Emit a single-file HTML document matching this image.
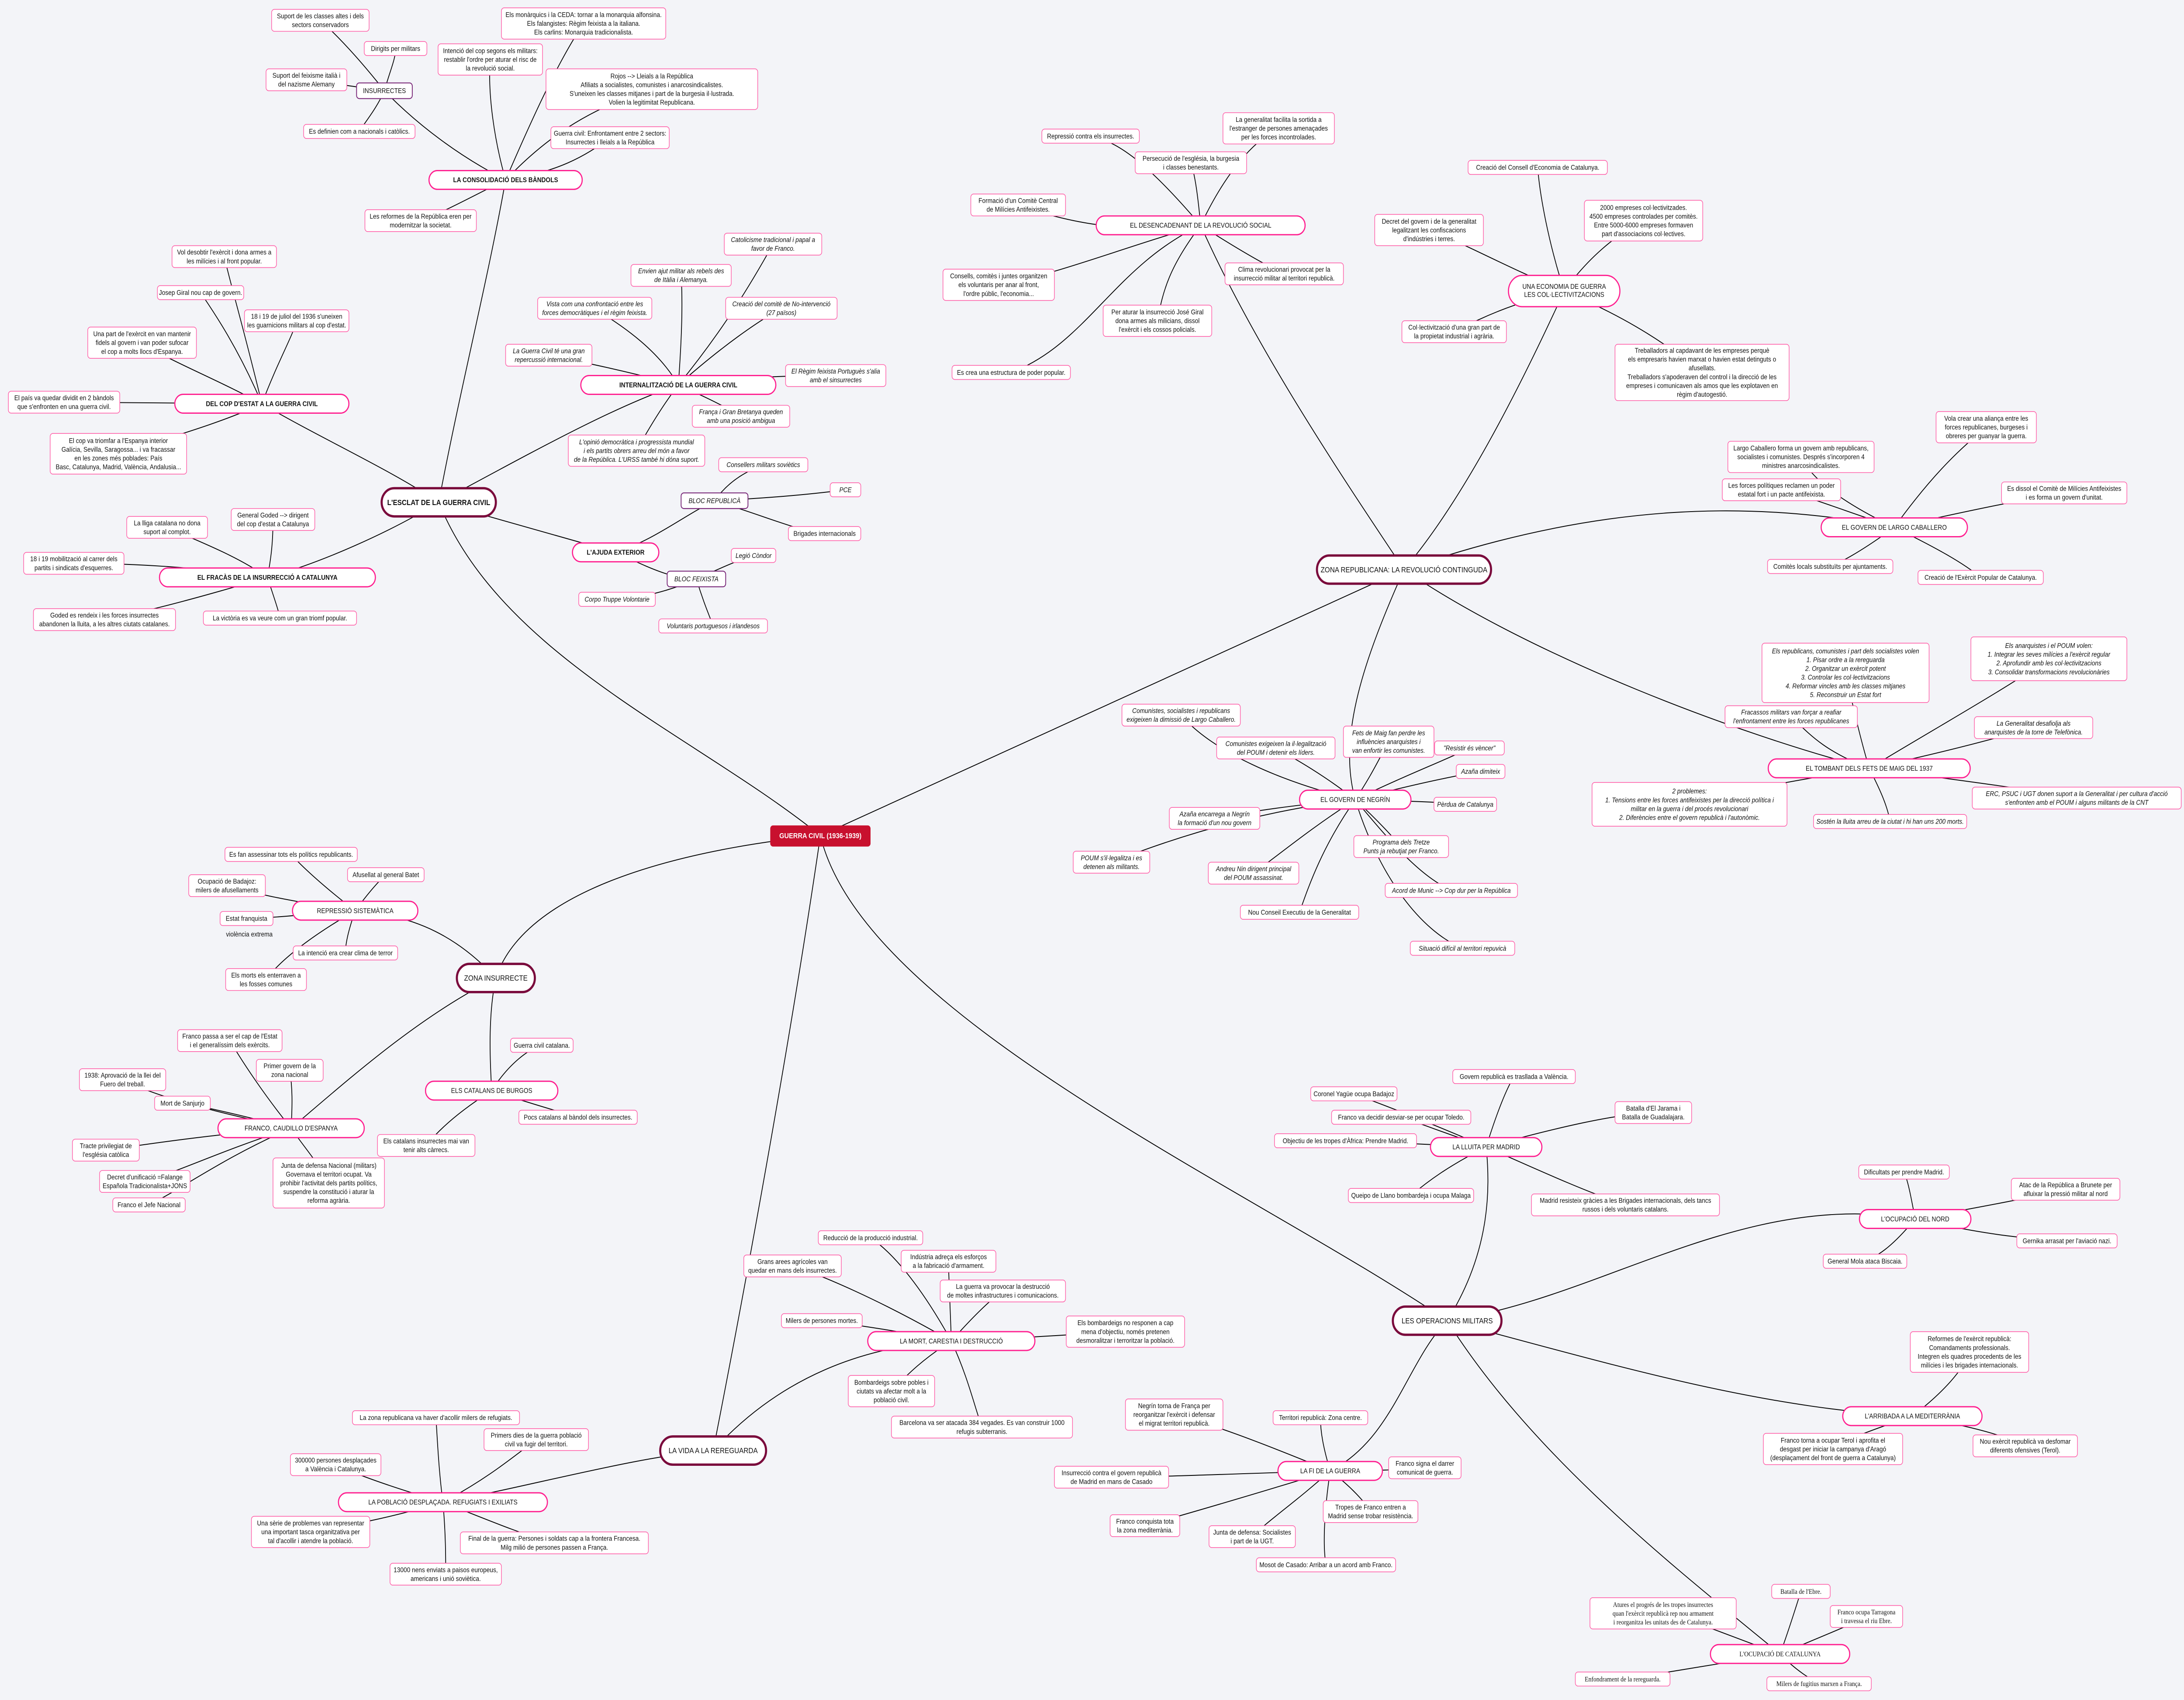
<!DOCTYPE html>
<html><head><meta charset="utf-8"><style>
html,body{margin:0;padding:0;background:#f3f4f8;width:100%;height:100%;overflow:hidden;}
svg{display:block;position:fixed;left:0;top:0;width:100vw;height:100vh;}
text{font-family:"Liberation Sans",sans-serif;font-size:4.3px;fill:#111;text-anchor:middle;}
.l rect{fill:#fff;stroke:#ff5fa8;stroke-width:0.45;}
.it text{font-style:italic;}
.p rect{fill:#fff;stroke:#7a2a7a;stroke-width:0.6;}
.c rect{fill:#fff;stroke:#ff1f8f;stroke-width:0.8;}
.m rect{fill:#fff;stroke:#7a0a3c;stroke-width:1.5;}
.m text{font-size:4.8px;}
.b text{font-weight:bold;}
.e path{fill:none;stroke:#000;stroke-width:0.55;}
.s text{font-family:"Liberation Serif",serif;}
</style></head><body>
<svg viewBox="0 0 1568 1086.4" preserveAspectRatio="none" xmlns="http://www.w3.org/2000/svg">
<g class="e">
<path d="M589 534 C500 470 360 420 315 321"/>
<path d="M589 534 L1008 364"/>
<path d="M589 534 C520 540 380 560 356 625"/>
<path d="M589 534 C570 650 540 800 512 927"/>
<path d="M589 534 C620 650 900 760 1039 844"/>
<path d="M315 321 C330 250 350 180 363 115"/>
<path d="M315 321 C280 300 230 280 188 258"/>
<path d="M315 321 C380 290 440 260 487 246"/>
<path d="M315 321 L442 353"/>
<path d="M315 321 C280 340 230 360 192 369"/>
<path d="M363 115 C330 100 300 80 276 58"/>
<path d="M363 115 C355 90 350 60 352 38"/>
<path d="M363 115 C380 80 400 40 419 15"/>
<path d="M363 115 C390 90 420 70 468 57"/>
<path d="M363 115 C400 110 420 100 438 88"/>
<path d="M363 115 C340 125 320 135 302 141"/>
<path d="M276 58 C260 40 245 25 230 13"/>
<path d="M276 58 C280 45 284 38 284 31"/>
<path d="M276 58 L220 51"/>
<path d="M276 58 C270 70 262 78 258 84"/>
<path d="M188 258 C175 210 165 180 161 164"/>
<path d="M188 258 C170 220 150 195 144 187"/>
<path d="M188 258 C200 230 210 215 213 205"/>
<path d="M188 258 C150 240 120 230 102 219"/>
<path d="M188 258 L46 257"/>
<path d="M188 258 C160 270 120 280 85 290"/>
<path d="M487 246 C520 210 540 180 555 156"/>
<path d="M487 246 C490 210 490 190 489 176"/>
<path d="M487 246 C470 220 440 205 427 197"/>
<path d="M487 246 C520 220 545 205 561 197"/>
<path d="M487 246 C440 235 410 230 394 227"/>
<path d="M487 246 C540 240 580 240 600 240"/>
<path d="M487 246 C510 255 525 262 532 266"/>
<path d="M487 246 C475 260 465 275 457 288"/>
<path d="M442 353 C470 345 490 330 513 320"/>
<path d="M442 353 C460 360 480 370 500 370"/>
<path d="M513 320 C525 305 540 300 548 297"/>
<path d="M513 320 C560 318 590 315 607 313"/>
<path d="M513 320 C550 330 575 340 592 341"/>
<path d="M500 370 C520 362 530 358 541 355"/>
<path d="M500 370 C480 378 460 382 443 383"/>
<path d="M500 370 C505 385 510 395 512 400"/>
<path d="M192 369 C170 355 140 345 120 337"/>
<path d="M192 369 C195 355 196 345 196 332"/>
<path d="M192 369 C140 362 90 360 53 360"/>
<path d="M192 369 C150 380 110 390 75 396"/>
<path d="M192 369 C196 380 200 390 201 395"/>
<path d="M1008 364 C960 300 900 220 862 144"/>
<path d="M1008 364 C1050 320 1090 250 1123 186"/>
<path d="M1008 364 C1150 320 1260 320 1360 337"/>
<path d="M1008 364 C1100 420 1250 470 1342 491"/>
<path d="M1008 364 C980 420 960 470 973 511"/>
<path d="M862 144 C820 100 800 90 783 87"/>
<path d="M862 144 C880 110 900 90 918 82"/>
<path d="M862 144 C860 125 858 112 855 104"/>
<path d="M862 144 C800 150 760 140 731 131"/>
<path d="M862 144 C800 160 760 175 717 182"/>
<path d="M862 144 C890 160 910 170 922 175"/>
<path d="M862 144 C840 170 835 185 831 205"/>
<path d="M862 144 C800 170 780 220 726 238"/>
<path d="M1123 186 C1110 150 1105 120 1104 107"/>
<path d="M1123 186 C1080 170 1050 155 1026 147"/>
<path d="M1123 186 C1140 165 1160 150 1180 141"/>
<path d="M1123 186 C1080 195 1060 205 1044 212"/>
<path d="M1123 186 C1160 200 1190 215 1222 238"/>
<path d="M1360 337 C1390 300 1410 285 1426 273"/>
<path d="M1360 337 C1320 320 1300 305 1293 292"/>
<path d="M1360 337 C1320 325 1300 318 1279 313"/>
<path d="M1360 337 C1420 325 1460 318 1482 315"/>
<path d="M1360 337 C1340 350 1325 358 1314 362"/>
<path d="M1360 337 C1390 350 1410 360 1422 369"/>
<path d="M1342 491 C1335 470 1330 450 1325 430"/>
<path d="M1342 491 C1400 460 1440 440 1471 421"/>
<path d="M1342 491 C1310 480 1300 470 1286 458"/>
<path d="M1342 491 C1400 480 1440 470 1460 465"/>
<path d="M1342 491 C1280 500 1250 505 1213 514"/>
<path d="M1342 491 C1420 500 1460 505 1491 510"/>
<path d="M1342 491 C1350 505 1355 515 1357 525"/>
<path d="M973 511 C920 500 870 480 848 457"/>
<path d="M973 511 C985 495 990 485 997 474"/>
<path d="M973 511 C950 495 930 485 916 478"/>
<path d="M973 511 C1010 495 1040 485 1055 478"/>
<path d="M973 511 C1020 500 1050 495 1063 493"/>
<path d="M973 511 C920 515 890 520 872 523"/>
<path d="M973 511 C1020 512 1040 513 1052 514"/>
<path d="M973 511 C990 525 1000 535 1006 541"/>
<path d="M973 511 C890 520 830 540 798 551"/>
<path d="M973 511 C940 530 920 545 900 558"/>
<path d="M973 511 C1000 540 1020 560 1042 569"/>
<path d="M973 511 C950 540 940 565 933 583"/>
<path d="M973 511 C990 560 1020 595 1050 606"/>
<path d="M356 625 C330 600 300 585 255 582"/>
<path d="M356 625 C350 650 352 680 353 697"/>
<path d="M356 625 C300 650 250 690 209 721"/>
<path d="M255 582 C230 565 215 552 209 546"/>
<path d="M255 582 C265 570 272 563 277 559"/>
<path d="M255 582 C200 575 180 570 163 566"/>
<path d="M255 582 C210 585 190 587 177 587"/>
<path d="M255 582 C250 595 248 603 248 609"/>
<path d="M255 582 C220 600 200 615 191 626"/>
<path d="M353 697 C365 680 380 670 389 668"/>
<path d="M353 697 C380 705 400 710 415 714"/>
<path d="M353 697 C330 710 315 722 306 732"/>
<path d="M209 721 C190 700 175 680 165 665"/>
<path d="M209 721 C210 705 210 695 208 684"/>
<path d="M209 721 C150 710 110 700 88 690"/>
<path d="M209 721 C170 712 145 707 131 705"/>
<path d="M209 721 C150 725 100 732 76 735"/>
<path d="M209 721 C220 735 230 745 236 756"/>
<path d="M209 721 C160 735 130 748 104 755"/>
<path d="M209 721 C160 740 130 760 107 770"/>
<path d="M512 927 C560 880 620 860 683 857"/>
<path d="M512 927 C460 930 380 950 318 960"/>
<path d="M683 857 C660 820 640 800 625 791"/>
<path d="M683 857 C682 830 681 815 681 806"/>
<path d="M683 857 C630 830 590 815 569 809"/>
<path d="M683 857 C700 840 712 830 720 825"/>
<path d="M683 857 C640 850 610 846 590 844"/>
<path d="M683 857 C740 855 780 852 808 851"/>
<path d="M683 857 C660 870 650 880 640 889"/>
<path d="M683 857 C695 880 700 900 705 912"/>
<path d="M318 960 C315 940 314 920 313 906"/>
<path d="M318 960 C350 945 370 930 385 920"/>
<path d="M318 960 C280 950 255 942 241 936"/>
<path d="M318 960 C280 970 250 975 223 979"/>
<path d="M318 960 C360 975 380 982 398 986"/>
<path d="M318 960 C320 980 320 995 320 1006"/>
<path d="M1039 844 C1070 800 1070 760 1067 733"/>
<path d="M1039 844 C1150 830 1250 760 1375 779"/>
<path d="M1039 844 C1150 870 1260 900 1373 905"/>
<path d="M1039 844 C1010 870 1000 920 955 940"/>
<path d="M1039 844 C1100 930 1200 1000 1278 1057"/>
<path d="M1067 733 C1075 710 1082 695 1087 688"/>
<path d="M1067 733 C1020 715 990 705 972 699"/>
<path d="M1067 733 C1120 720 1160 712 1187 711"/>
<path d="M1067 733 C1040 725 1020 718 1006 714"/>
<path d="M1067 733 L966 729"/>
<path d="M1067 733 C1040 745 1025 755 1013 764"/>
<path d="M1067 733 C1110 750 1140 762 1167 770"/>
<path d="M1375 779 C1372 765 1370 755 1367 749"/>
<path d="M1375 779 C1430 770 1460 765 1483 760"/>
<path d="M1375 779 C1430 790 1460 792 1484 793"/>
<path d="M1375 779 C1360 795 1350 802 1339 806"/>
<path d="M1373 905 C1395 890 1410 875 1414 864"/>
<path d="M1373 905 C1340 915 1325 920 1316 926"/>
<path d="M1373 905 C1420 912 1440 918 1454 924"/>
<path d="M955 940 C900 920 870 910 843 904"/>
<path d="M955 940 C950 925 948 915 948 906"/>
<path d="M955 940 C990 940 1010 939 1023 938"/>
<path d="M955 940 C880 942 830 944 798 944"/>
<path d="M955 940 C970 950 980 960 984 966"/>
<path d="M955 940 C900 955 850 968 822 975"/>
<path d="M955 940 C930 960 910 972 899 982"/>
<path d="M955 940 C950 970 950 990 952 1000"/>
<path d="M1278 1057 C1285 1040 1290 1025 1293 1017"/>
<path d="M1278 1057 C1310 1045 1330 1038 1340 1033"/>
<path d="M1278 1057 C1240 1045 1215 1035 1194 1031"/>
<path d="M1278 1057 C1220 1065 1190 1070 1165 1073"/>
<path d="M1278 1057 C1290 1068 1300 1073 1306 1076"/>
</g>

<g class="m">
<rect x="274" y="312" width="82" height="18" rx="9"/><text x="315" y="322.7" font-weight="bold">L'ESCLAT DE LA GUERRA CIVIL</text>
<rect x="945.5" y="355" width="125" height="18" rx="9"/><text x="1008" y="365.7">ZONA REPUBLICANA: LA REVOLUCIÓ CONTINGUDA</text>
<rect x="328" y="616" width="56" height="18" rx="9"/><text x="356" y="626.7">ZONA INSURRECTE</text>
<rect x="474" y="918" width="76" height="18" rx="9"/><text x="512" y="928.7">LA VIDA A LA REREGUARDA</text>
<rect x="1000" y="835" width="78" height="18" rx="9"/><text x="1039" y="845.7">LES OPERACIONS MILITARS</text>
</g>
<rect x="553" y="527.5" width="72" height="13.5" rx="2" fill="#c8102e"/>
<text x="589" y="535.7" style="fill:#fff;font-weight:bold;font-size:4.6px">GUERRA CIVIL (1936-1939)</text>

<g class="c">
<g class="b"><rect x="308" y="109" width="110" height="12" rx="6"/><text x="363" y="116.5">LA CONSOLIDACIÓ DELS BÀNDOLS</text></g>
<g class="b"><rect x="125.5" y="252" width="125" height="12" rx="6"/><text x="188" y="259.5">DEL COP D'ESTAT A LA GUERRA CIVIL</text></g>
<g class="b"><rect x="417" y="240" width="140" height="12" rx="6"/><text x="487" y="247.5">INTERNALITZACIÓ DE LA GUERRA CIVIL</text></g>
<g class="b"><rect x="411" y="347" width="62" height="12" rx="6"/><text x="442" y="354.5">L'AJUDA EXTERIOR</text></g>
<g class="b"><rect x="114.5" y="363" width="155" height="12" rx="6"/><text x="192" y="370.5">EL FRACÀS DE LA INSURRECCIÓ A CATALUNYA</text></g>
<rect x="787" y="138" width="150" height="12" rx="6"/><text x="862" y="145.5">EL DESENCADENANT DE LA REVOLUCIÓ SOCIAL</text>
<rect x="1083" y="176" width="80" height="20" rx="10"/><text x="1123" y="184.5">UNA ECONOMIA DE GUERRA<tspan x="1123" dy="5.2">LES COL·LECTIVITZACIONS</tspan></text>
<rect x="1307.5" y="331" width="105" height="12" rx="6"/><text x="1360" y="338.5">EL GOVERN DE LARGO CABALLERO</text>
<rect x="1269.5" y="485" width="145" height="12" rx="6"/><text x="1342" y="492.5">EL TOMBANT DELS FETS DE MAIG DEL 1937</text>
<rect x="933" y="505" width="80" height="12" rx="6"/><text x="973" y="512.5">EL GOVERN DE NEGRÍN</text>
<rect x="210" y="576" width="90" height="12" rx="6"/><text x="255" y="583.5">REPRESSIÓ SISTEMÀTICA</text>
<rect x="305.5" y="691" width="95" height="12" rx="6"/><text x="353" y="698.5">ELS CATALANS DE BURGOS</text>
<rect x="156.5" y="715" width="105" height="12" rx="6"/><text x="209" y="722.5">FRANCO, CAUDILLO D'ESPANYA</text>
<rect x="623" y="851" width="120" height="12" rx="6"/><text x="683" y="858.5">LA MORT, CARESTIA I DESTRUCCIÓ</text>
<rect x="243" y="954" width="150" height="12" rx="6"/><text x="318" y="961.5">LA POBLACIÓ DESPLAÇADA. REFUGIATS I EXILIATS</text>
<rect x="1027" y="727" width="80" height="12" rx="6"/><text x="1067" y="734.5">LA LLUITA PER MADRID</text>
<rect x="1335" y="773" width="80" height="12" rx="6"/><text x="1375" y="780.5">L'OCUPACIÓ DEL NORD</text>
<rect x="1323" y="899" width="100" height="12" rx="6"/><text x="1373" y="906.5">L'ARRIBADA A LA MEDITERRÀNIA</text>
<rect x="917.5" y="934" width="75" height="12" rx="6"/><text x="955" y="941.5">LA FI DE LA GUERRA</text>
<g class="s"><rect x="1228" y="1051" width="100" height="12" rx="6"/><text x="1278" y="1058.5">L'OCUPACIÓ DE CATALUNYA</text></g>
</g>

<g class="p">
<rect x="256" y="53" width="40" height="10" rx="2"/><text x="276" y="59.5">INSURRECTES</text>
<g class="it"><rect x="489" y="315" width="48" height="10" rx="2"/><text x="513" y="321.5">BLOC REPUBLICÀ</text>
<rect x="479" y="365" width="42" height="10" rx="2"/><text x="500" y="371.5">BLOC FEIXISTA</text></g>
</g>

<g class="l">
<rect x="195" y="6" width="70" height="14" rx="2"/><text x="230" y="11.7">Suport de les classes altes i dels<tspan x="230" dy="5.6">sectors conservadors</tspan></text>
<rect x="261.5" y="26.5" width="45" height="9" rx="2"/><text x="284" y="32.5">Dirigits per militars</text>
<rect x="191" y="44" width="58" height="14" rx="2"/><text x="220" y="49.7">Suport del feixisme italià i<tspan x="220" dy="5.6">del nazisme Alemany</tspan></text>
<rect x="218" y="79.5" width="80" height="9" rx="2"/><text x="258" y="85.5">Es definien com a nacionals i catòlics.</text>
<rect x="314.5" y="28" width="75" height="20" rx="2"/><text x="352" y="33.9">Intenció del cop segons els militars:<tspan x="352" dy="5.6">restablir l'ordre per aturar el risc de</tspan><tspan x="352" dy="5.6">la revolució social.</tspan></text>
<rect x="360" y="5" width="118" height="20" rx="2"/><text x="419" y="10.9">Els monàrquics i la CEDA: tornar a la monarquia alfonsina.<tspan x="419" dy="5.6">Els falangistes: Règim feixista a la italiana.</tspan><tspan x="419" dy="5.6">Els carlins: Monarquia tradicionalista.</tspan></text>
<rect x="392" y="44" width="152" height="26" rx="2"/><text x="468" y="50.1">Rojos --&gt; Lleials a la República<tspan x="468" dy="5.6">Afiliats a socialistes, comunistes i anarcosindicalistes.</tspan><tspan x="468" dy="5.6">S'uneixen les classes mitjanes i part de la burgesia il·lustrada.</tspan><tspan x="468" dy="5.6">Volien la legitimitat Republicana.</tspan></text>
<rect x="395.5" y="81" width="85" height="14" rx="2"/><text x="438" y="86.7">Guerra civil: Enfrontament entre 2 sectors:<tspan x="438" dy="5.6">Insurrectes i lleials a la República</tspan></text>
<rect x="262" y="134" width="80" height="14" rx="2"/><text x="302" y="139.7">Les reformes de la República eren per<tspan x="302" dy="5.6">modernitzar la societat.</tspan></text>
<rect x="123.5" y="157" width="75" height="14" rx="2"/><text x="161" y="162.7">Vol desobtir l'exèrcit i dona armes a<tspan x="161" dy="5.6">les milícies i al front popular.</tspan></text>
<rect x="113" y="182.5" width="62" height="9" rx="2"/><text x="144" y="188.5">Josep Giral nou cap de govern.</text>
<rect x="175.5" y="198" width="75" height="14" rx="2"/><text x="213" y="203.7">18 i 19 de juliol del 1936 s'uneixen<tspan x="213" dy="5.6">les guarnicions militars al cop d'estat.</tspan></text>
<rect x="63" y="209" width="78" height="20" rx="2"/><text x="102" y="214.9">Una part de l'exèrcit en van mantenir<tspan x="102" dy="5.6">fidels al govern i van poder sufocar</tspan><tspan x="102" dy="5.6">el cop a molts llocs d'Espanya.</tspan></text>
<rect x="6" y="250" width="80" height="14" rx="2"/><text x="46" y="255.7">El país va quedar dividit en 2 bàndols<tspan x="46" dy="5.6">que s'enfronten en una guerra civil.</tspan></text>
<rect x="36" y="277" width="98" height="26" rx="2"/><text x="85" y="283.1">El cop va triomfar a l'Espanya interior<tspan x="85" dy="5.6">Galícia, Sevilla, Saragossa... i va fracassar</tspan><tspan x="85" dy="5.6">en les zones més poblades: País</tspan><tspan x="85" dy="5.6">Basc, Catalunya, Madrid, València, Andalusia...</tspan></text>
<g class="it">
<rect x="520" y="149" width="70" height="14" rx="2"/><text x="555" y="154.7">Catolicisme tradicional i papal a<tspan x="555" dy="5.6">favor de Franco.</tspan></text>
<rect x="453" y="169" width="72" height="14" rx="2"/><text x="489" y="174.7">Envien ajut militar als rebels des<tspan x="489" dy="5.6">de Itàlia i Alemanya.</tspan></text>
<rect x="386" y="190" width="82" height="14" rx="2"/><text x="427" y="195.7">Vista com una confrontació entre les<tspan x="427" dy="5.6">forces democràtiques i el règim feixista.</tspan></text>
<rect x="521" y="190" width="80" height="14" rx="2"/><text x="561" y="195.7">Creació del comitè de No-intervenció<tspan x="561" dy="5.6">(27 països)</tspan></text>
<rect x="363" y="220" width="62" height="14" rx="2"/><text x="394" y="225.7">La Guerra Civil té una gran<tspan x="394" dy="5.6">repercussió internacional.</tspan></text>
<rect x="564" y="233" width="72" height="14" rx="2"/><text x="600" y="238.7">El Règim feixista Portuguès s'alia<tspan x="600" dy="5.6">amb el sinsurrectes</tspan></text>
<rect x="497" y="259" width="70" height="14" rx="2"/><text x="532" y="264.7">França i Gran Bretanya queden<tspan x="532" dy="5.6">amb una posició ambigua</tspan></text>
<rect x="408" y="278" width="98" height="20" rx="2"/><text x="457" y="283.9">L'opinió democràtica i progressista mundial<tspan x="457" dy="5.6">i els partits obrers arreu del món a favor</tspan><tspan x="457" dy="5.6">de la República. L'URSS també hi dóna suport.</tspan></text>
<rect x="516" y="292.5" width="64" height="9" rx="2"/><text x="548" y="298.5">Consellers militars soviètics</text>
<rect x="596" y="308.5" width="22" height="9" rx="2"/><text x="607" y="314.5">PCE</text>
<rect x="525" y="350.5" width="32" height="9" rx="2"/><text x="541" y="356.5">Legió Còndor</text>
<rect x="415.5" y="378.5" width="55" height="9" rx="2"/><text x="443" y="384.5">Corpo Truppe Volontarie</text>
<rect x="473" y="395.5" width="78" height="9" rx="2"/><text x="512" y="401.5">Voluntaris portuguesos i irlandesos</text>
</g>
<rect x="566" y="336.5" width="52" height="9" rx="2"/><text x="592" y="342.5">Brigades internacionals</text>
<rect x="91" y="330" width="58" height="14" rx="2"/><text x="120" y="335.7">La lliga catalana no dona<tspan x="120" dy="5.6">suport al complot.</tspan></text>
<rect x="166" y="325" width="60" height="14" rx="2"/><text x="196" y="330.7">General Goded --&gt; dirigent<tspan x="196" dy="5.6">del cop d'estat a Catalunya</tspan></text>
<rect x="17" y="353" width="72" height="14" rx="2"/><text x="53" y="358.7">18 i 19 mobilització al carrer dels<tspan x="53" dy="5.6">partits i sindicats d'esquerres.</tspan></text>
<rect x="24" y="389" width="102" height="14" rx="2"/><text x="75" y="394.7">Goded es rendeix i les forces insurrectes<tspan x="75" dy="5.6">abandonen la lluita, a les altres ciutats catalanes.</tspan></text>
<rect x="146" y="390.5" width="110" height="9" rx="2"/><text x="201" y="396.5">La victòria es va veure com un gran triomf popular.</text>

<rect x="748" y="82.5" width="70" height="9" rx="2"/><text x="783" y="88.5">Repressió contra els insurrectes.</text>
<rect x="878" y="72" width="80" height="20" rx="2"/><text x="918" y="77.9">La generalitat facilita la sortida a<tspan x="918" dy="5.6">l'estranger de persones amenaçades</tspan><tspan x="918" dy="5.6">per les forces incontrolades.</tspan></text>
<rect x="815" y="97" width="80" height="14" rx="2"/><text x="855" y="102.7">Persecució de l'església, la burgesia<tspan x="855" dy="5.6">i classes benestants.</tspan></text>
<rect x="697" y="124" width="68" height="14" rx="2"/><text x="731" y="129.7">Formació d'un Comitè Central<tspan x="731" dy="5.6">de Milícies Antifeixistes.</tspan></text>
<rect x="677" y="172" width="80" height="20" rx="2"/><text x="717" y="177.9">Consells, comitès i juntes organitzen<tspan x="717" dy="5.6">els voluntaris per anar al front,</tspan><tspan x="717" dy="5.6">l'ordre públic, l'economia...</tspan></text>
<rect x="879.5" y="168" width="85" height="14" rx="2"/><text x="922" y="173.7">Clima revolucionari provocat per la<tspan x="922" dy="5.6">insurrecció militar al territori republicà.</tspan></text>
<rect x="792" y="195" width="78" height="20" rx="2"/><text x="831" y="200.9">Per aturar la insurrecció José Giral<tspan x="831" dy="5.6">dona armes als milicians, dissol</tspan><tspan x="831" dy="5.6">l'exèrcit i els cossos policials.</tspan></text>
<rect x="683.5" y="233.5" width="85" height="9" rx="2"/><text x="726" y="239.5">Es crea una estructura de poder popular.</text>

<rect x="1054" y="102.5" width="100" height="9" rx="2"/><text x="1104" y="108.5">Creació del Consell d'Economia de Catalunya.</text>
<rect x="987" y="137" width="78" height="20" rx="2"/><text x="1026" y="142.9">Decret del govern i de la generalitat<tspan x="1026" dy="5.6">legalitzant les confiscacions</tspan><tspan x="1026" dy="5.6">d'indústries i terres.</tspan></text>
<rect x="1137.5" y="128" width="85" height="26" rx="2"/><text x="1180" y="134.1">2000 empreses col·lectivitzades.<tspan x="1180" dy="5.6">4500 empreses controlades per comitès.</tspan><tspan x="1180" dy="5.6">Entre 5000-6000 empreses formaven</tspan><tspan x="1180" dy="5.6">part d'associacions col·lectives.</tspan></text>
<rect x="1006.5" y="205" width="75" height="14" rx="2"/><text x="1044" y="210.7">Col·lectivització d'una gran part de<tspan x="1044" dy="5.6">la propietat industrial i agrària.</tspan></text>
<rect x="1159.5" y="220" width="125" height="36" rx="2"/><text x="1222" y="225.5">Treballadors al capdavant de les empreses perquè<tspan x="1222" dy="5.6">els empresaris havien marxat o havien estat detinguts o</tspan><tspan x="1222" dy="5.6">afusellats.</tspan><tspan x="1222" dy="5.6">Treballadors s'apoderaven del control i la direcció de les</tspan><tspan x="1222" dy="5.6">empreses i comunicaven als amos que les explotaven en</tspan><tspan x="1222" dy="5.6">règim d'autogestió.</tspan></text>

<rect x="1390" y="263" width="72" height="20" rx="2"/><text x="1426" y="268.9">Vola crear una aliança entre les<tspan x="1426" dy="5.6">forces republicanes, burgeses i</tspan><tspan x="1426" dy="5.6">obreres per guanyar la guerra.</tspan></text>
<rect x="1240.5" y="282" width="105" height="20" rx="2"/><text x="1293" y="287.9">Largo Caballero forma un govern amb republicans,<tspan x="1293" dy="5.6">socialistes i comunistes. Després s'incorporen 4</tspan><tspan x="1293" dy="5.6">ministres anarcosindicalistes.</tspan></text>
<rect x="1236.5" y="306" width="85" height="14" rx="2"/><text x="1279" y="311.7">Les forces polítiques reclamen un poder<tspan x="1279" dy="5.6">estatal fort i un pacte antifeixista.</tspan></text>
<rect x="1437" y="308" width="90" height="14" rx="2"/><text x="1482" y="313.7">Es dissol el Comitè de Milícies Antifeixistes<tspan x="1482" dy="5.6">i es forma un govern d'unitat.</tspan></text>
<rect x="1269" y="357.5" width="90" height="9" rx="2"/><text x="1314" y="363.5">Comitès locals substituïts per ajuntaments.</text>
<rect x="1377" y="364.5" width="90" height="9" rx="2"/><text x="1422" y="370.5">Creació de l'Exèrcit Popular de Catalunya.</text>

<g class="it">
<rect x="1265" y="411" width="120" height="38" rx="2"/><text x="1325" y="417.5">Els republicans, comunistes i part dels socialistes volen<tspan x="1325" dy="5.6">1. Pisar ordre a la rereguarda</tspan><tspan x="1325" dy="5.6">2. Organitzar un exèrcit potent</tspan><tspan x="1325" dy="5.6">3. Controlar les col·lectivitzacions</tspan><tspan x="1325" dy="5.6">4. Reformar vincles amb les classes mitjanes</tspan><tspan x="1325" dy="5.6">5. Reconstruir un Estat fort</tspan></text>
<rect x="1415" y="407" width="112" height="28" rx="2"/><text x="1471" y="414.1">Els anarquistes i el POUM volen:<tspan x="1471" dy="5.6">1. Integrar les seves milícies a l'exèrcit regular</tspan><tspan x="1471" dy="5.6">2. Aprofundir amb les col·lectivitzacions</tspan><tspan x="1471" dy="5.6">3. Consolidar transformacions revolucionàries</tspan></text>
<rect x="1238.5" y="451" width="95" height="14" rx="2"/><text x="1286" y="456.7">Fracassos militars van forçar a reafiar<tspan x="1286" dy="5.6">l'enfrontament entre les forces republicanes</tspan></text>
<rect x="1417.5" y="458" width="85" height="14" rx="2"/><text x="1460" y="463.7">La Generalitat desafiolja als<tspan x="1460" dy="5.6">anarquistes de la torre de Telefònica.</tspan></text>
<rect x="1143" y="500" width="140" height="28" rx="2"/><text x="1213" y="507.1">2 problemes:<tspan x="1213" dy="5.6">1. Tensions entre les forces antifeixistes per la direcció política i</tspan><tspan x="1213" dy="5.6">militar en la guerra i del procés revolucionari</tspan><tspan x="1213" dy="5.6">2. Diferències entre el govern republicà i l'autonòmic.</tspan></text>
<rect x="1416" y="503" width="150" height="14" rx="2"/><text x="1491" y="508.7">ERC, PSUC i UGT donen suport a la Generalitat i per cultura d'acció<tspan x="1491" dy="5.6">s'enfronten amb el POUM i alguns militants de la CNT</tspan></text>
<rect x="1302" y="520.5" width="110" height="9" rx="2"/><text x="1357" y="526.5">Sostén la lluita arreu de la ciutat i hi han uns 200 morts.</text>

<rect x="805.5" y="450" width="85" height="14" rx="2"/><text x="848" y="455.7">Comunistes, socialistes i republicans<tspan x="848" dy="5.6">exigeixen la dimissió de Largo Caballero.</tspan></text>
<rect x="964.5" y="464" width="65" height="20" rx="2"/><text x="997" y="469.9">Fets de Maig fan perdre les<tspan x="997" dy="5.6">influències anarquistes i</tspan><tspan x="997" dy="5.6">van enfortir les comunistes.</tspan></text>
<rect x="873.5" y="471" width="85" height="14" rx="2"/><text x="916" y="476.7">Comunistes exigeixen la il·legalització<tspan x="916" dy="5.6">del POUM i detenir els líders.</tspan></text>
<rect x="1030" y="473.5" width="50" height="9" rx="2"/><text x="1055" y="479.5">"Resistir és vèncer"</text>
<rect x="1045.5" y="488.5" width="35" height="9" rx="2"/><text x="1063" y="494.5">Azaña dimiteix</text>
<rect x="839.5" y="516" width="65" height="14" rx="2"/><text x="872" y="521.7">Azaña encarrega a Negrín<tspan x="872" dy="5.6">la formació d'un nou govern</tspan></text>
<rect x="1029.5" y="509.5" width="45" height="9" rx="2"/><text x="1052" y="515.5">Pèrdua de Catalunya</text>
<rect x="972" y="534" width="68" height="14" rx="2"/><text x="1006" y="539.7">Programa dels Tretze<tspan x="1006" dy="5.6">Punts ja rebutjat per Franco.</tspan></text>
<rect x="770.5" y="544" width="55" height="14" rx="2"/><text x="798" y="549.7">POUM s'il·legalitza i es<tspan x="798" dy="5.6">detenen als militants.</tspan></text>
<rect x="867.5" y="551" width="65" height="14" rx="2"/><text x="900" y="556.7">Andreu Nin dirigent principal<tspan x="900" dy="5.6">del POUM assassinat.</tspan></text>
<rect x="994.5" y="564.5" width="95" height="9" rx="2"/><text x="1042" y="570.5">Acord de Munic --&gt; Cop dur per la República</text>
<rect x="1012.5" y="601.5" width="75" height="9" rx="2"/><text x="1050" y="607.5">Situació difícil al territori repuvicà</text>
</g>
<rect x="890.5" y="578.5" width="85" height="9" rx="2"/><text x="933" y="584.5">Nou Conseil Executiu de la Generalitat</text>

<rect x="161.5" y="541.5" width="95" height="9" rx="2"/><text x="209" y="547.5">Es fan assessinar tots els polítics republicants.</text>
<rect x="249.5" y="554.5" width="55" height="9" rx="2"/><text x="277" y="560.5">Afusellat al general Batet</text>
<rect x="135.5" y="559" width="55" height="14" rx="2"/><text x="163" y="564.7">Ocupació de Badajoz:<tspan x="163" dy="5.6">milers de afusellaments</tspan></text>
<rect x="158" y="582.5" width="38" height="9" rx="2"/><text x="177" y="588.5">Estat franquista</text>
<text x="179" y="598.5">violència extrema</text>
<rect x="210.5" y="604.5" width="75" height="9" rx="2"/><text x="248" y="610.5">La intenció era crear clima de terror</text>
<rect x="162" y="619" width="58" height="14" rx="2"/><text x="191" y="624.7">Els morts els enterraven a<tspan x="191" dy="5.6">les fosses comunes</tspan></text>
<rect x="366.5" y="663.5" width="45" height="9" rx="2"/><text x="389" y="669.5">Guerra civil catalana.</text>
<rect x="372.5" y="709.5" width="85" height="9" rx="2"/><text x="415" y="715.5">Pocs catalans al bàndol dels insurrectes.</text>
<rect x="271" y="725" width="70" height="14" rx="2"/><text x="306" y="730.7">Els catalans insurrectes mai van<tspan x="306" dy="5.6">tenir alts càrrecs.</tspan></text>
<rect x="127.5" y="658" width="75" height="14" rx="2"/><text x="165" y="663.7">Franco passa a ser el cap de l'Estat<tspan x="165" dy="5.6">i el generalíssim dels exèrcits.</tspan></text>
<rect x="184" y="677" width="48" height="14" rx="2"/><text x="208" y="682.7">Primer govern de la<tspan x="208" dy="5.6">zona nacional</tspan></text>
<rect x="57" y="683" width="62" height="14" rx="2"/><text x="88" y="688.7">1938: Aprovació de la llei del<tspan x="88" dy="5.6">Fuero del treball.</tspan></text>
<rect x="111" y="700.5" width="40" height="9" rx="2"/><text x="131" y="706.5">Mort de Sanjurjo</text>
<rect x="52" y="728" width="48" height="14" rx="2"/><text x="76" y="733.7">Tracte privilegiat de<tspan x="76" dy="5.6">l'església catòlica</tspan></text>
<rect x="196" y="740" width="80" height="32" rx="2"/><text x="236" y="746.3">Junta de defensa Nacional (militars)<tspan x="236" dy="5.6">Governava el territori ocupat. Va</tspan><tspan x="236" dy="5.6">prohibir l'activitat dels partits polítics,</tspan><tspan x="236" dy="5.6">suspendre la constitució i aturar la</tspan><tspan x="236" dy="5.6">reforma agrària.</tspan></text>
<rect x="71.5" y="748" width="65" height="14" rx="2"/><text x="104" y="753.7">Decret d'unificació =Falange<tspan x="104" dy="5.6">Española Tradicionalista+JONS</tspan></text>
<rect x="81" y="765.5" width="52" height="9" rx="2"/><text x="107" y="771.5">Franco el Jefe Nacional</text>

<rect x="587.5" y="786.5" width="75" height="9" rx="2"/><text x="625" y="792.5">Reducció de la producció industrial.</text>
<rect x="647" y="799" width="68" height="14" rx="2"/><text x="681" y="804.7">Indústria adreça els esforços<tspan x="681" dy="5.6">a la fabricació d'armament.</tspan></text>
<rect x="534" y="802" width="70" height="14" rx="2"/><text x="569" y="807.7">Grans arees agrícoles van<tspan x="569" dy="5.6">quedar en mans dels insurrectes.</tspan></text>
<rect x="675" y="818" width="90" height="14" rx="2"/><text x="720" y="823.7">La guerra va provocar la destrucció<tspan x="720" dy="5.6">de moltes infrastructures i comunicacions.</tspan></text>
<rect x="561" y="839.5" width="58" height="9" rx="2"/><text x="590" y="845.5">Milers de persones mortes.</text>
<rect x="765.5" y="841" width="85" height="20" rx="2"/><text x="808" y="846.9">Els bombardeigs no responen a cap<tspan x="808" dy="5.6">mena d'objectiu, només pretenen</tspan><tspan x="808" dy="5.6">desmoralitzar i terroritzar la població.</tspan></text>
<rect x="609" y="879" width="62" height="20" rx="2"/><text x="640" y="884.9">Bombardeigs sobre pobles i<tspan x="640" dy="5.6">ciutats va afectar molt a la</tspan><tspan x="640" dy="5.6">població civil.</tspan></text>
<rect x="640" y="905" width="130" height="14" rx="2"/><text x="705" y="910.7">Barcelona va ser atacada 384 vegades. Es van construir 1000<tspan x="705" dy="5.6">refugis subterranis.</tspan></text>
<rect x="253" y="901.5" width="120" height="9" rx="2"/><text x="313" y="907.5">La zona republicana va haver d'acollir milers de refugiats.</text>
<rect x="347.5" y="913" width="75" height="14" rx="2"/><text x="385" y="918.7">Primers dies de la guerra població<tspan x="385" dy="5.6">civil va fugir del territori.</tspan></text>
<rect x="208.5" y="929" width="65" height="14" rx="2"/><text x="241" y="934.7">300000 persones desplaçades<tspan x="241" dy="5.6">a València i Catalunya.</tspan></text>
<rect x="180.5" y="969" width="85" height="20" rx="2"/><text x="223" y="974.9">Una sèrie de problemes van representar<tspan x="223" dy="5.6">una important tasca organitzativa per</tspan><tspan x="223" dy="5.6">tal d'acollir i atendre la població.</tspan></text>
<rect x="330.5" y="979" width="135" height="14" rx="2"/><text x="398" y="984.7">Final de la guerra: Persones i soldats cap a la frontera Francesa.<tspan x="398" dy="5.6">Milg milió de persones passen a França.</tspan></text>
<rect x="280" y="999" width="80" height="14" rx="2"/><text x="320" y="1004.7">13000 nens enviats a paisos europeus,<tspan x="320" dy="5.6">americans i unió soviètica.</tspan></text>

<rect x="1043" y="683.5" width="88" height="9" rx="2"/><text x="1087" y="689.5">Govern republicà es trasllada a València.</text>
<rect x="941" y="694.5" width="62" height="9" rx="2"/><text x="972" y="700.5">Coronel Yagüe ocupa Badajoz</text>
<rect x="1159.5" y="704" width="55" height="14" rx="2"/><text x="1187" y="709.7">Batalla d'El Jarama i<tspan x="1187" dy="5.6">Batalla de Guadalajara.</tspan></text>
<rect x="956" y="709.5" width="100" height="9" rx="2"/><text x="1006" y="715.5">Franco va decidir desviar-se per ocupar Toledo.</text>
<rect x="915" y="724.5" width="102" height="9" rx="2"/><text x="966" y="730.5">Objectiu de les tropes d'Àfrica: Prendre Madrid.</text>
<rect x="968" y="759.5" width="90" height="9" rx="2"/><text x="1013" y="765.5">Queipo de Llano bombardeja i ocupa Malaga</text>
<rect x="1099.5" y="763" width="135" height="14" rx="2"/><text x="1167" y="768.7">Madrid resisteix gràcies a les Brigades internacionals, dels tancs<tspan x="1167" dy="5.6">russos i dels voluntaris catalans.</tspan></text>
<rect x="1334.5" y="744.5" width="65" height="9" rx="2"/><text x="1367" y="750.5">Dificultats per prendre Madrid.</text>
<rect x="1444" y="753" width="78" height="14" rx="2"/><text x="1483" y="758.7">Atac de la República a Brunete per<tspan x="1483" dy="5.6">afluixar la pressió militar al nord</tspan></text>
<rect x="1448" y="788.5" width="72" height="9" rx="2"/><text x="1484" y="794.5">Gernika arrasat per l'aviació nazi.</text>
<rect x="1309" y="801.5" width="60" height="9" rx="2"/><text x="1339" y="807.5">General Mola ataca Biscaia.</text>
<rect x="1371.5" y="851" width="85" height="26" rx="2"/><text x="1414" y="857.1">Reformes de l'exèrcit republicà:<tspan x="1414" dy="5.6">Comandaments professionals.</tspan><tspan x="1414" dy="5.6">Integren els quadres procedents de les</tspan><tspan x="1414" dy="5.6">milícies i les brigades internacionals.</tspan></text>
<rect x="1266" y="916" width="100" height="20" rx="2"/><text x="1316" y="921.9">Franco torna a ocupar Terol i aprofita el<tspan x="1316" dy="5.6">desgast per iniciar la campanya d'Aragó</tspan><tspan x="1316" dy="5.6">(desplaçament del front de guerra a Catalunya)</tspan></text>
<rect x="1416.5" y="917" width="75" height="14" rx="2"/><text x="1454" y="922.7">Nou exèrcit republicà va desfomar<tspan x="1454" dy="5.6">diferents ofensives (Terol).</tspan></text>
<rect x="808" y="894" width="70" height="20" rx="2"/><text x="843" y="899.9">Negrín torna de França per<tspan x="843" dy="5.6">reorganitzar l'exèrcit i defensar</tspan><tspan x="843" dy="5.6">el migrat territori republicà.</tspan></text>
<rect x="914" y="901.5" width="68" height="9" rx="2"/><text x="948" y="907.5">Territori republicà: Zona centre.</text>
<rect x="997" y="931" width="52" height="14" rx="2"/><text x="1023" y="936.7">Franco signa el darrer<tspan x="1023" dy="5.6">comunicat de guerra.</tspan></text>
<rect x="757" y="937" width="82" height="14" rx="2"/><text x="798" y="942.7">Insurrecció contra el govern republicà<tspan x="798" dy="5.6">de Madrid en mans de Casado</tspan></text>
<rect x="950" y="959" width="68" height="14" rx="2"/><text x="984" y="964.7">Tropes de Franco entren a<tspan x="984" dy="5.6">Madrid sense trobar resistència.</tspan></text>
<rect x="797" y="968" width="50" height="14" rx="2"/><text x="822" y="973.7">Franco conquista tota<tspan x="822" dy="5.6">la zona mediterrània.</tspan></text>
<rect x="868" y="975" width="62" height="14" rx="2"/><text x="899" y="980.7">Junta de defensa: Socialistes<tspan x="899" dy="5.6">i part de la UGT.</tspan></text>
<rect x="902" y="995.5" width="100" height="9" rx="2"/><text x="952" y="1001.5">Mosot de Casado: Arribar a un acord amb Franco.</text>
<g class="s">
<rect x="1272" y="1012.5" width="42" height="9" rx="2"/><text x="1293" y="1018.5">Batalla de l'Ebre.</text>
<rect x="1314" y="1026" width="52" height="14" rx="2"/><text x="1340" y="1031.7">Franco ocupa Tarragona<tspan x="1340" dy="5.6">i travessa el riu Ebre.</tspan></text>
<rect x="1141.5" y="1021" width="105" height="20" rx="2"/><text x="1194" y="1026.9">Atures el progrés de les tropes insurrectes<tspan x="1194" dy="5.6">quan l'exèrcit republicà rep nou armament</tspan><tspan x="1194" dy="5.6">i reorganitza les unitats des de Catalunya.</tspan></text>
<rect x="1131" y="1068.5" width="68" height="9" rx="2"/><text x="1165" y="1074.5">Enfondrament de la rereguarda.</text>
<rect x="1268.5" y="1071.5" width="75" height="9" rx="2"/><text x="1306" y="1077.5">Milers de fugitius marxen a França.</text>
</g>
</g>
</svg>
</body></html>
